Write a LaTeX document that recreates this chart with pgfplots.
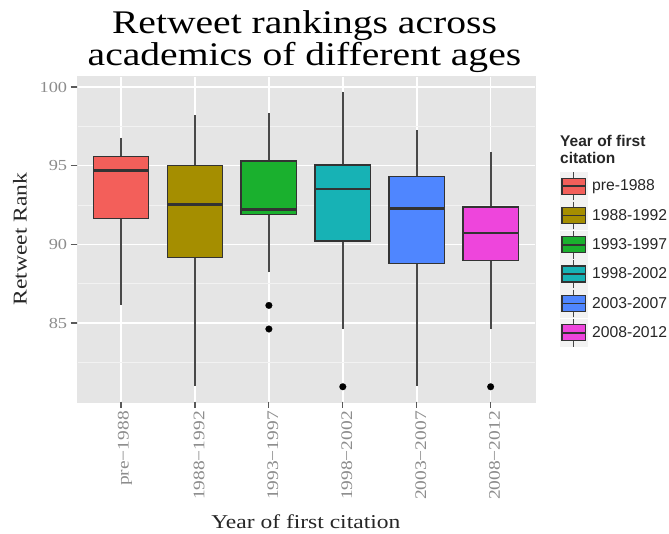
\documentclass[border=0pt]{standalone}
\usepackage{pgfplots}
\pgfplotsset{compat=1.18}
\usepgfplotslibrary{statistics}
\usepackage{fontspec}
\setmainfont{Liberation Serif}[FakeStretch=1.2]
\newfontfamily\legfont{Liberation Sans}
\definecolor{panelbg}{HTML}{E5E5E5}
\definecolor{minorgrid}{HTML}{F2F2F2}
\definecolor{boxline}{HTML}{333333}
\definecolor{whisk}{HTML}{484848}
\definecolor{tickcol}{HTML}{5A5A5A}
\definecolor{ticklab}{HTML}{8C8C8C}
\definecolor{keybg}{HTML}{F2F2F2}
\definecolor{cA}{HTML}{F35F5A}
\definecolor{cB}{HTML}{A58E00}
\definecolor{cC}{HTML}{1AB02E}
\definecolor{cD}{HTML}{17B2B5}
\definecolor{cE}{HTML}{4F86FF}
\definecolor{cF}{HTML}{EE45DC}
\pgfplotsset{
  boxleg/.style={legend image code/.code={
    \path (0pt,-14.45pt) (27pt,14.45pt);
    \fill[keybg] (0pt,-13.9pt) rectangle (27pt,13.9pt);
    \draw[whisk, line width=1.4pt] (13.5pt,-13.9pt) -- (13.5pt,13.9pt);
    \draw[boxline, line width=1.3pt, fill=#1] (1.8pt,-8pt) rectangle (25.2pt,8pt);
    \draw[boxline, line width=1.7pt] (1.8pt,0pt) -- (25.2pt,0pt);
  }},
  outl/.style={mark=*, mark size=3.4pt, mark options={fill=black, draw=black, line width=0.1pt, solid}},
}
\begin{document}
\begin{tikzpicture}
\useasboundingbox (0,0) rectangle (669pt,534pt);
\begin{axis}[
  at={(76.7pt,132.3pt)}, anchor=south west,
  scale only axis, width=458.3pt, height=325.7pt,
  xmin=0.4, xmax=6.6, ymin=80, ymax=100.7,
  clip=false,
  axis background/.style={fill=panelbg},
  axis line style={draw=panelbg, line width=0.1pt},
  xtick={1,2,3,4,5,6},
  xticklabels={pre−1988,1988−1992,1993−1997,1998−2002,2003−2007,2008−2012},
  ytick={85,90,95,100},
  minor ytick={82.5,87.5,92.5,97.5},
  xmajorgrids, ymajorgrids, yminorgrids,
  major grid style={white, line width=1.6pt},
  minor grid style={minorgrid, line width=0.8pt},
  tick align=outside, tick pos=left,
  major tick length=6pt, minor tick length=0pt,
  every tick/.style={draw=tickcol, line width=1.2pt},
  /pgf/number format/assume math mode=true,
  tick label style={font=\fontsize{15.3}{18}\selectfont, text=ticklab},
  x tick label style={rotate=90, anchor=east, font=\fontsize{16.2}{18}\selectfont, yshift=-4pt},
  title={Retweet rankings across\\academics of different ages},
  title style={at={(axis description cs:0.497,1)}, anchor=south, align=center,
    inner sep=0pt, yshift=-2.5pt, font=\fontsize{33}{26}\selectfont},
  xlabel={Year of first citation},
  ylabel={Retweet Rank},
  every axis x label/.style={at={(axis description cs:0.5,-0.3878)}, anchor=base,
    font=\fontsize{19.6}{22}\selectfont, text=black!85},
  every axis y label/.style={at={(axis description cs:-0.1091,0.5)}, rotate=90, anchor=base,
    font=\fontsize{19.6}{22}\selectfont, text=black!85},
  boxplot/draw direction=y,
  boxplot/box extend=0.75,
  boxplot/whisker extend=0,
  boxplot/every box/.style={draw=boxline, line width=1.4pt},
  boxplot/every whisker/.style={draw=whisk, line width=1.8pt},
  boxplot/every median/.style={draw=boxline, line width=2.8pt},
  legend style={at={(axis description cs:1.0546,0.7066)}, anchor=north west,
    draw=none, fill=none, inner sep=0pt, outer sep=0pt, row sep=0pt, column sep=4.7pt,
    nodes={inner sep=0pt, anchor=west, font=\legfont\fontsize{15.7}{18}\selectfont, text=black!85}},
  legend cell align=left,
  after end axis/.code={
    \foreach \v in {85,90,95,100} {\draw[tickcol, line width=1.2pt] (axis cs:0.4,\v) -- ++(-6pt,0pt);}
    \foreach \i in {1,...,6} {\draw[tickcol, line width=1.2pt] (axis cs:\i,80) -- ++(0pt,-6pt);}
  },
]
\addplot[boxplot prepared={draw position=1, lower whisker=86.14, lower quartile=91.65,
  median=94.68, upper quartile=95.57, upper whisker=96.78},
  fill=cA, boxleg=cA] coordinates {};
\addlegendentry{pre-1988}
\addplot[boxplot prepared={draw position=2, lower whisker=80.99, lower quartile=89.15,
  median=92.52, upper quartile=95.0, upper whisker=98.22},
  fill=cB, boxleg=cB] coordinates {};
\addlegendentry{1988-1992}
\addplot[boxplot prepared={draw position=3, lower whisker=88.22, lower quartile=91.9,
  median=92.24, upper quartile=95.31, upper whisker=98.33},
  fill=cC, boxleg=cC, outl]
  table[row sep=\\, y index=0] {v\\86.12\\84.62\\};
\addlegendentry{1993-1997}
\addplot[boxplot prepared={draw position=4, lower whisker=84.64, lower quartile=90.21,
  median=93.52, upper quartile=95.04, upper whisker=99.70},
  fill=cD, boxleg=cD, outl]
  table[row sep=\\, y index=0] {v\\80.95\\};
\addlegendentry{1998-2002}
\addplot[boxplot prepared={draw position=5, lower whisker=80.99, lower quartile=88.79,
  median=92.27, upper quartile=94.30, upper whisker=97.27},
  fill=cE, boxleg=cE] coordinates {};
\addlegendentry{2003-2007}
\addplot[boxplot prepared={draw position=6, lower whisker=84.64, lower quartile=88.96,
  median=90.72, upper quartile=92.37, upper whisker=95.85},
  fill=cF, boxleg=cF, outl]
  table[row sep=\\, y index=0] {v\\80.95\\};
\addlegendentry{2008-2012}
\end{axis}
\node[anchor=base west, inner sep=0pt, font=\legfont\bfseries\fontsize{15.5}{17}\selectfont, text=black!85] at (560pt,387.3pt) {Year of first};
\node[anchor=base west, inner sep=0pt, font=\legfont\bfseries\fontsize{15.5}{17}\selectfont, text=black!85] at (560pt,370.7pt) {citation};
\end{tikzpicture}
\end{document}
